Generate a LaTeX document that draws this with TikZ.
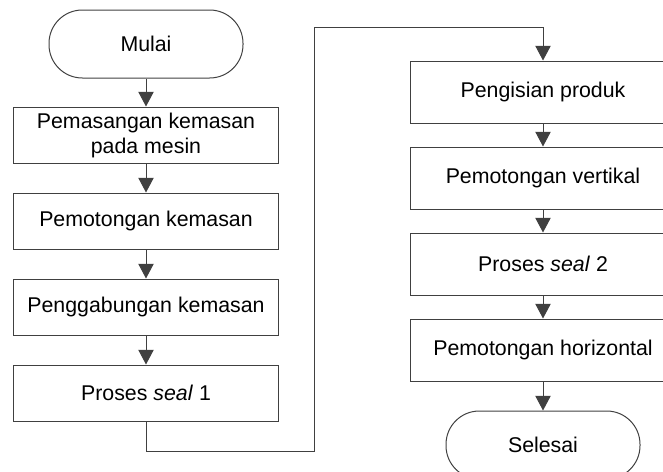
\documentclass[tikz,border=0pt]{standalone}
\usepackage{fontspec}
\setmainfont{Liberation Sans}
\usepackage{tikz}
\usetikzlibrary{arrows.meta, positioning}

\begin{document}
\begin{tikzpicture}[
			x=0.75pt, y=-0.75pt,
			every node/.style={
				align=center,
				font=\fontsize{16}{18.75}\selectfont,
				inner sep=1pt
			},
			proc/.style={draw=black!75, line width=0.75pt, minimum height=42pt, minimum width=198.75pt},
			procr/.style={proc, minimum height=46.5pt, minimum width=199.5pt},
			term/.style={draw=black!75, line width=0.75pt, rounded corners=25pt, minimum width=145.5pt, minimum height=51pt},
			arr/.style={-{Triangle[length=11pt, width=11.5pt]}, black!75, line width=0.75pt}
			]
			
			\useasboundingbox (0,0) rectangle (663,471);
			\clip (0,0) rectangle (663,471);
			
			% Left column
			\node[term] (start) at (146,44) {Mulai};
			\node[proc, below=21pt of start] (p1) {Pemasangan kemasan\\pada mesin};
			\node[proc, below=21.75pt of p1] (p2) {Pemotongan kemasan};
			\node[proc, below=21.75pt of p2] (p3) {Penggabungan kemasan};
			\node[proc, below=21.75pt of p3] (p4) {Proses \textit{seal} 1};
			
			% Right column
			\node[procr] (p5) at (543,92) {Pengisian produk};
			\node[procr, below=17.25pt of p5] (p6) {Pemotongan vertikal};
			\node[procr, below=17.25pt of p6] (p7) {Proses \textit{seal} 2};
			\node[procr, below=17.25pt of p7] (p8) {Pemotongan horizontal};
			\node[term, below=21.75pt of p8] (stop) {Selesai};
			
			% Link between columns
			\coordinate (c1) at (314,451);
			\coordinate (c2) at (314,27);
			
			% Arrows
			\draw[arr] (start) -- (p1);
			\draw[arr] (p1) -- (p2);
			\draw[arr] (p2) -- (p3);
			\draw[arr] (p3) -- (p4);
			\draw[arr] (p4.south) |- (c1) -- (c2) -| (p5.north);
			\draw[arr] (p5) -- (p6);
			\draw[arr] (p6) -- (p7);
			\draw[arr] (p7) -- (p8);
			\draw[arr] (p8) -- (stop);
			
		\end{tikzpicture}
\end{document}
